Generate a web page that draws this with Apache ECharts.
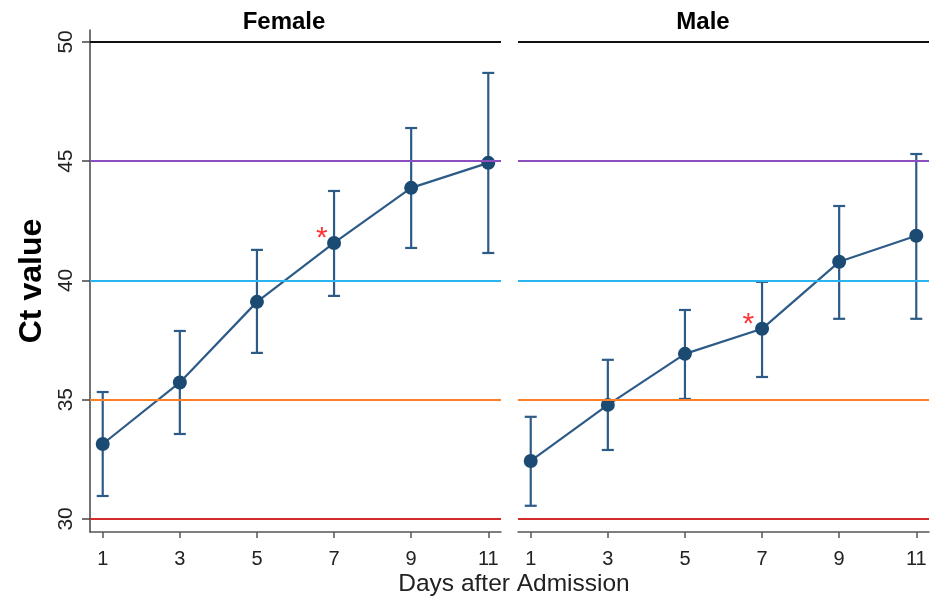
<!DOCTYPE html>
<html><head><meta charset="utf-8">
<script src="https://cdn.jsdelivr.net/npm/echarts@6/dist/echarts.min.js"></script>
<style>html,body{margin:0;padding:0;background:#fff}#c{width:932px;height:599px}</style>
</head><body><div id="c"></div>
<script>
const days = [1, 3, 5, 7, 9, 11];
const femaleMean = [33.14, 35.72, 39.10, 41.57, 43.88, 44.93];
const femaleLow  = [30.96, 33.56, 36.96, 39.35, 41.36, 41.15];
const femaleHigh = [35.32, 37.88, 41.28, 43.75, 46.39, 48.70];
const maleMean = [32.43, 34.78, 36.92, 37.97, 40.78, 41.87];
const maleLow  = [30.55, 32.89, 35.03, 35.95, 38.39, 38.39];
const maleHigh = [34.28, 36.67, 38.76, 39.94, 43.12, 45.30];
const yTicks = [30, 35, 40, 45, 50];
const xTicks = [1, 3, 5, 7, 9, 11];
const thresholds = [30, 35, 40, 45, 50];
const thresholdColors = ['#d42a2a', '#ff7f24', '#2ab4f0', '#8d4fbf', '#111111'];
const panelTitles = ['Female', 'Male'];
const starDays = [6.66, 6.62];
const starValues = [41.9, 38.3];

const FONT = '"Liberation Sans", Arial, Helvetica, sans-serif';
const chart = echarts.init(document.getElementById('c'), null, {renderer: 'canvas'});

function errRender(params, api) {
  const x = api.value(0), lo = api.value(1), hi = api.value(2);
  const pLo = api.coord([x, lo]);
  const pHi = api.coord([x, hi]);
  const w = 6;
  const style = {stroke: '#2d5b88', lineWidth: 2.2};
  return {type: 'group', children: [
    {type: 'line', shape: {x1: pLo[0], y1: pLo[1], x2: pHi[0], y2: pHi[1]}, style},
    {type: 'line', shape: {x1: pLo[0] - w, y1: pLo[1], x2: pLo[0] + w, y2: pLo[1]}, style},
    {type: 'line', shape: {x1: pHi[0] - w, y1: pHi[1], x2: pHi[0] + w, y2: pHi[1]}, style}
  ]};
}

const grids = [
  {left: 90, top: 30, width: 411, height: 502},
  {left: 518, top: 30, width: 411, height: 502}
];

function xAxisFor(i) {
  return {
    type: 'value', gridIndex: i, min: 0.67, max: 11.33,
    axisLine: {show: true, lineStyle: {color: '#555', width: 1.5}},
    axisTick: {show: true, length: 6, customValues: xTicks, lineStyle: {color: '#555', width: 1.5}},
    axisLabel: {customValues: xTicks, margin: 17, fontSize: 20, color: '#222', fontFamily: FONT},
    splitLine: {show: false}
  };
}
function yAxisFor(i) {
  return {
    type: 'value', gridIndex: i, min: 29.45, max: 50.5,
    show: i === 0,
    name: i === 0 ? 'Ct value' : '',
    nameLocation: 'middle', nameGap: 42,
    nameTextStyle: {fontSize: 32, fontWeight: 'bold', color: '#000', fontFamily: FONT},
    axisLine: {show: true, lineStyle: {color: '#444', width: 1.5}},
    axisTick: {show: true, length: 8, customValues: yTicks, lineStyle: {color: '#444', width: 1.5}},
    axisLabel: {customValues: yTicks, rotate: 90, margin: 13, fontSize: 21, color: '#222', fontFamily: FONT},
    splitLine: {show: false}
  };
}

const panels = [
  {mean: femaleMean, low: femaleLow, high: femaleHigh},
  {mean: maleMean, low: maleLow, high: maleHigh}
];

const series = [];
panels.forEach((p, i) => {
  series.push({
    type: 'line', xAxisIndex: i, yAxisIndex: i, data: [], silent: true,
    markLine: {
      silent: true, symbol: ['none', 'none'], label: {show: false},
      data: thresholds.map((t, k) => ({yAxis: t, lineStyle: {color: thresholdColors[k], width: 2, type: 'solid'}}))
    }
  });
  series.push({
    type: 'custom', xAxisIndex: i, yAxisIndex: i, renderItem: errRender, z: 3,
    data: days.map((d, k) => [d, p.low[k], p.high[k]])
  });
  series.push({
    type: 'line', xAxisIndex: i, yAxisIndex: i, z: 4,
    data: days.map((d, k) => [d, p.mean[k]]),
    symbol: 'circle', symbolSize: 14,
    itemStyle: {color: '#1b4a72'},
    lineStyle: {color: '#2d5b88', width: 2.2}
  });
  series.push({
    type: 'scatter', xAxisIndex: i, yAxisIndex: i, z: 5,
    data: [[starDays[i], starValues[i]]],
    symbolSize: 0,
    label: {show: true, formatter: '*', position: 'inside', color: '#ff0000', fontSize: 30, fontFamily: FONT, offset: [1, 4]}
  });
});

chart.setOption({
  animation: false,
  backgroundColor: '#fff',
  grid: grids,
  xAxis: [xAxisFor(0), xAxisFor(1)],
  yAxis: [yAxisFor(0), yAxisFor(1)],
  series: series,
  graphic: [
    {type: 'text', x: 284, y: 22, style: {text: panelTitles[0], font: 'bold 24px ' + FONT, fill: '#000', textAlign: 'center', textVerticalAlign: 'middle'}},
    {type: 'text', x: 703, y: 22, style: {text: panelTitles[1], font: 'bold 24px ' + FONT, fill: '#000', textAlign: 'center', textVerticalAlign: 'middle'}},
    {type: 'text', x: 514, y: 584, style: {text: 'Days after Admission', font: '24.5px ' + FONT, fill: '#222', textAlign: 'center', textVerticalAlign: 'middle'}}
  ]
});
</script></body></html>
